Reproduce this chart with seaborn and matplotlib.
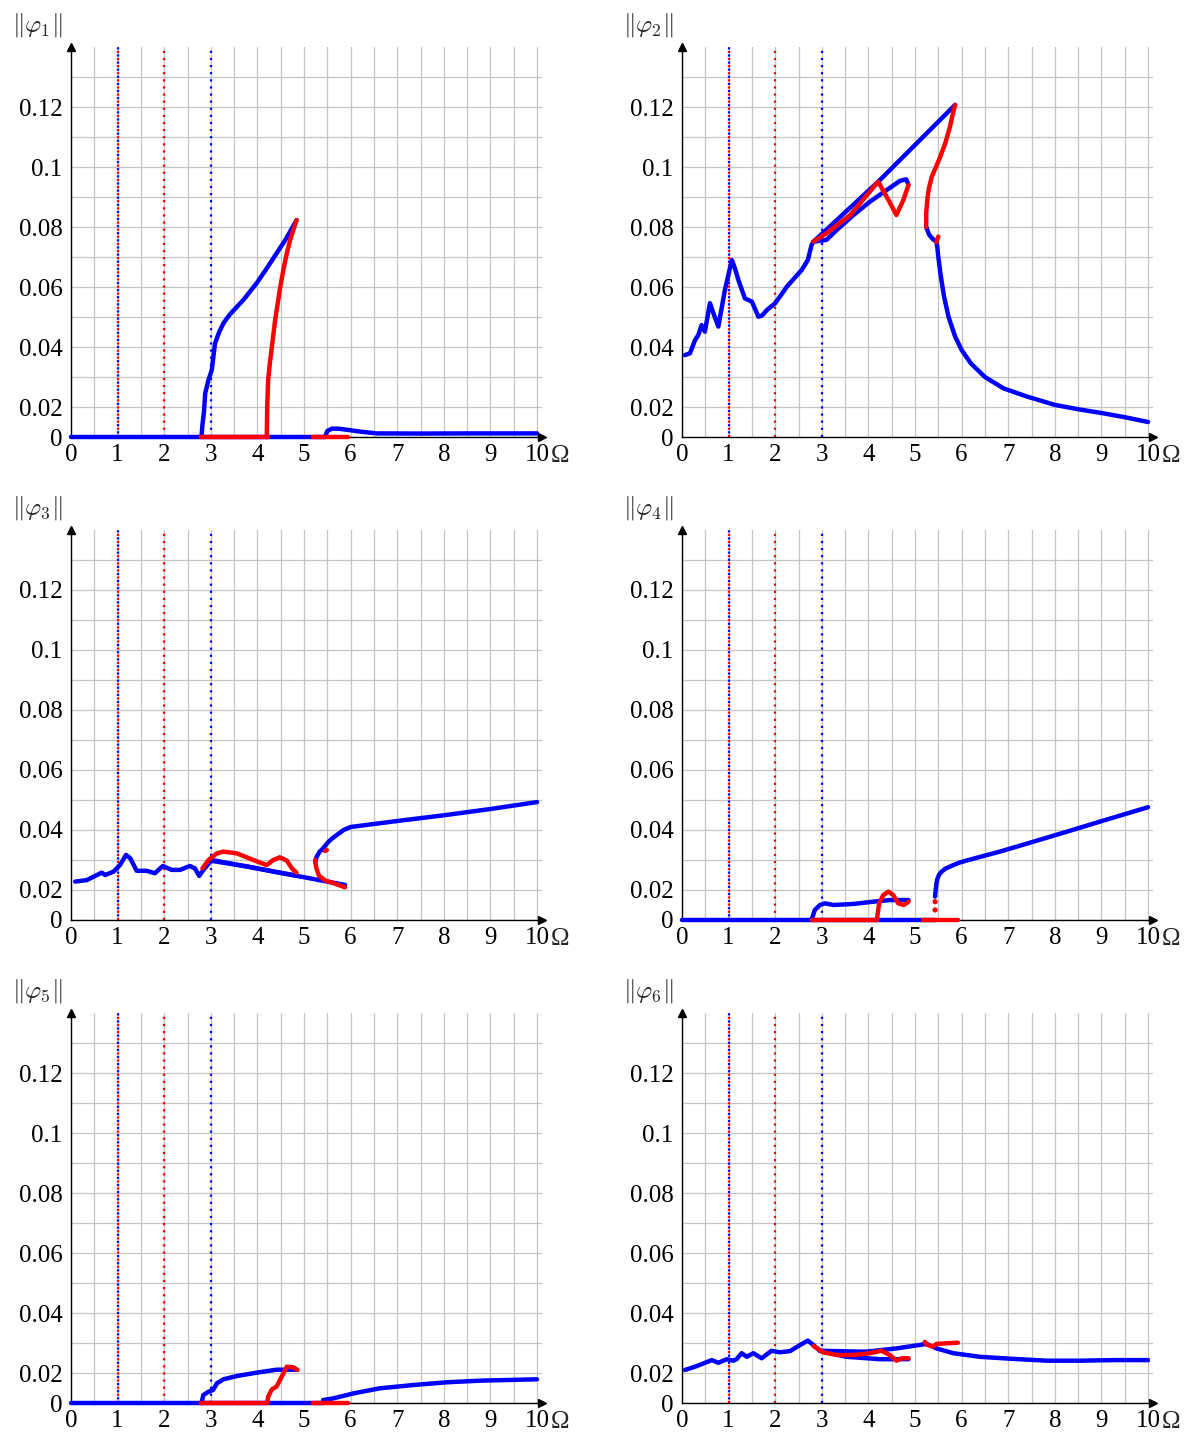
import numpy as np
import matplotlib
matplotlib.use("Agg")
import matplotlib.pyplot as plt
import seaborn as sns

# ---------------- data ----------------
XTICKS = [0, 1, 2, 3, 4, 5, 6, 7, 8, 9, 10]
YTICKS = [0, 0.02, 0.04, 0.06, 0.08, 0.1, 0.12]
YTICKLABELS = ["0", "0.02", "0.04", "0.06", "0.08", "0.1", "0.12"]
VLINES_BLUE = [1, 3]
VLINES_RED = [1, 2]
TITLES = [r"$\Vert\varphi_1\Vert$", r"$\Vert\varphi_2\Vert$", r"$\Vert\varphi_3\Vert$",
          r"$\Vert\varphi_4\Vert$", r"$\Vert\varphi_5\Vert$", r"$\Vert\varphi_6\Vert$"]

# panel 1
p1_blue_zero_x = [0, 5.45]; p1_blue_zero_y = [0, 0]
p1_blue_branch_x = [2.80, 2.82, 2.85, 2.88, 2.95, 3.02, 3.09, 3.18, 3.27, 3.4, 3.56, 3.7, 3.98,
                    4.2, 4.41, 4.6, 4.84]
p1_blue_branch_y = [0, 0.008, 0.0158, 0.0246, 0.029, 0.0323, 0.0412, 0.045, 0.0479, 0.0507,
                    0.0534, 0.0557, 0.0612, 0.0662, 0.0712, 0.0757, 0.0823]
p1_blue_tail_x = [5.45, 5.5, 5.6, 5.75, 6.0, 6.2, 6.56, 7.5, 8.5, 10]
p1_blue_tail_y = [0, 0.004, 0.0056, 0.0055, 0.0045, 0.0036, 0.0024, 0.0023, 0.0024, 0.0024]
p1_red_zero1_x = [2.80, 4.22]; p1_red_zero1_y = [0, 0]
p1_red_zero2_x = [5.2, 5.95]; p1_red_zero2_y = [0, 0]
p1_red_branch_x = [4.20, 4.21, 4.23, 4.27, 4.31, 4.38, 4.49, 4.56, 4.63, 4.70, 4.77, 4.84]
p1_red_branch_y = [0, 0.020, 0.029, 0.035, 0.040, 0.049, 0.060, 0.066, 0.0712, 0.0755, 0.079,
                   0.0823]

# panel 2
p2_blue_main_x = [0.06, 0.17, 0.28, 0.35, 0.42, 0.49, 0.60, 0.68, 0.78, 0.92, 1.07, 1.14, 1.21,
                  1.35, 1.50, 1.64, 1.72, 1.82, 2.00, 2.25, 2.57, 2.70, 2.78, 2.82]
p2_blue_main_y = [0.0373, 0.0379, 0.0423, 0.044, 0.0473, 0.0451, 0.0546, 0.051, 0.0468, 0.059,
                  0.069, 0.066, 0.0623, 0.0562, 0.0551, 0.0501, 0.0505, 0.0523, 0.0546, 0.0601,
                  0.0657, 0.069, 0.074, 0.0751]
p2_blue_lower_x = [2.82, 3.10, 3.32, 3.68, 4.03, 4.39, 4.68, 4.81, 4.86]
p2_blue_lower_y = [0.0751, 0.0757, 0.079, 0.084, 0.0884, 0.0923, 0.0954, 0.0959, 0.094]
p2_blue_upper_x = [2.82, 4.21, 5.86]
p2_blue_upper_y = [0.0751, 0.0951, 0.1207]
p2_blue_tail_x = [5.24, 5.30, 5.38, 5.46, 5.48, 5.50, 5.55, 5.62, 5.72, 5.86, 6.0, 6.2, 6.5, 6.9,
                  7.4, 8.0, 8.5, 9.0, 9.5, 10]
p2_blue_tail_y = [0.080, 0.0775, 0.0760, 0.0751, 0.073, 0.070, 0.064, 0.057, 0.050, 0.0435,
                  0.039, 0.0345, 0.030, 0.0262, 0.0235, 0.0207, 0.0185, 0.0160, 0.0132, 0.0100]
p2_red_loop_x = [4.86, 4.75, 4.60, 4.43, 4.21, 3.61, 3.10, 2.82]
p2_red_loop_y = [0.094, 0.089, 0.084, 0.089, 0.0951, 0.084, 0.0779, 0.0751]
p2_red_desc_x = [5.86, 5.80, 5.75, 5.65, 5.54, 5.45, 5.36, 5.30, 5.27, 5.24, 5.24]
p2_red_desc_y = [0.1207, 0.117, 0.1134, 0.108, 0.1034, 0.100, 0.0968, 0.093, 0.090, 0.0846, 0.080]
p2_red_dot_x = [5.46, 5.50]; p2_red_dot_y = [0.075, 0.0768]

# panel 3
p3_blue_main_x = [0.09, 0.34, 0.48, 0.66, 0.73, 0.91, 1.05, 1.18, 1.27, 1.41, 1.62, 1.80, 1.97,
                  2.16, 2.34, 2.55, 2.66, 2.75, 2.84, 3.02]
p3_blue_main_y = [0.0228, 0.0233, 0.0244, 0.0258, 0.025, 0.0261, 0.0283, 0.0317, 0.0306, 0.0264,
                  0.0264, 0.0256, 0.028, 0.0267, 0.0267, 0.028, 0.0272, 0.0247, 0.0267, 0.030]
p3_blue_lineA_x = [3.02, 5.88]; p3_blue_lineA_y = [0.030, 0.0217]
p3_blue_lineB_x = [3.02, 3.8, 4.4, 4.8]; p3_blue_lineB_y = [0.0297, 0.0278, 0.0260, 0.0249]
p3_blue_upper_x = [5.24, 5.27, 5.33, 5.41, 5.52, 5.62, 5.70, 5.85, 6.0, 6.5, 7, 8, 9, 10]
p3_blue_upper_y = [0.0294, 0.031, 0.0327, 0.0339, 0.0360, 0.0374, 0.0383, 0.0400, 0.0410, 0.0420,
                   0.0430, 0.0449, 0.047, 0.0493]
p3_red_loop_x = [2.82, 2.95, 3.13, 3.27, 3.56, 3.91, 4.20, 4.34, 4.48, 4.63, 4.74, 4.84]
p3_red_loop_y = [0.0272, 0.030, 0.0322, 0.0328, 0.0322, 0.030, 0.0283, 0.030, 0.0309, 0.0298,
                 0.0272, 0.0258]
p3_red_lower_x = [5.24, 5.26, 5.32, 5.45, 5.65, 5.88]
p3_red_lower_y = [0.030, 0.0275, 0.0248, 0.0232, 0.0222, 0.0209]
p3_red_dot_x = [5.45, 5.49]; p3_red_dot_y = [0.033, 0.0333]

# panel 4
p4_blue_zero_x = [0, 5.43]; p4_blue_zero_y = [0, 0]
p4_blue_branch_x = [2.78, 2.85, 2.96, 3.07, 3.25, 3.68, 4.10, 4.46, 4.86]
p4_blue_branch_y = [0, 0.0067, 0.010, 0.0111, 0.010, 0.0107, 0.0122, 0.0133, 0.0133]
p4_blue_upper_x = [5.43, 5.44, 5.46, 5.48, 5.52, 5.57, 5.65, 5.82, 5.95, 6.1, 6.82, 7.54, 8.25,
                   8.97, 10]
p4_blue_upper_y = [0.0156, 0.019, 0.0222, 0.0237, 0.0252, 0.0261, 0.0271, 0.0283, 0.0291, 0.0298,
                   0.0328, 0.0361, 0.0394, 0.0428, 0.0476]
p4_red_zero1_x = [2.78, 4.18]; p4_red_zero1_y = [0, 0]
p4_red_zero2_x = [5.18, 5.93]; p4_red_zero2_y = [0, 0]
p4_red_branch_x = [4.18, 4.23, 4.32, 4.43, 4.53, 4.64, 4.76, 4.86]
p4_red_branch_y = [0, 0.0111, 0.0167, 0.0189, 0.0167, 0.0111, 0.010, 0.0122]
p4_red_dots_x = [5.43, 5.43]; p4_red_dots_y = [0.0067, 0.0122]

# panel 5
p5_blue_zero_x = [0, 5.41]; p5_blue_zero_y = [0, 0]
p5_blue_branch_x = [2.80, 2.84, 2.95, 3.05, 3.13, 3.27, 3.56, 3.98, 4.41, 4.70, 4.84]
p5_blue_branch_y = [0, 0.0053, 0.0075, 0.0087, 0.0131, 0.0158, 0.018, 0.0201, 0.0211, 0.0211, 0.0211]
p5_blue_tail_x = [5.41, 5.63, 6.06, 6.63, 7.35, 8.06, 8.78, 10]
p5_blue_tail_y = [0.002, 0.0031, 0.0064, 0.0098, 0.012, 0.0138, 0.0149, 0.0158]
p5_red_zero1_x = [2.80, 4.21]; p5_red_zero1_y = [0, 0]
p5_red_zero2_x = [5.2, 5.95]; p5_red_zero2_y = [0, 0]
p5_red_branch_x = [4.21, 4.23, 4.31, 4.41, 4.52, 4.63, 4.77, 4.86]
p5_red_branch_y = [0, 0.0042, 0.0091, 0.0109, 0.0175, 0.0221, 0.0219, 0.021]

# panel 6
p6_blue_main_x = [0.06, 0.28, 0.46, 0.64, 0.78, 0.96, 1.10, 1.17, 1.28, 1.39, 1.53, 1.71, 1.92,
                  2.10, 2.32, 2.53, 2.70, 2.82, 2.96]
p6_blue_main_y = [0.021, 0.0221, 0.0232, 0.0243, 0.0234, 0.0246, 0.0241, 0.0246, 0.0266, 0.0254,
                  0.0266, 0.0249, 0.0274, 0.0269, 0.0273, 0.0293, 0.0308, 0.0293, 0.0274]
p6_blue_lower_x = [2.96, 3.53, 4.25, 4.86]; p6_blue_lower_y = [0.0274, 0.0254, 0.0246, 0.0246]
p6_blue_upper_x = [2.96, 3.95, 4.6, 5.25, 5.46, 5.82, 6.39, 7.11, 7.83, 8.54, 9.26, 10]
p6_blue_upper_y = [0.0274, 0.0271, 0.0282, 0.0297, 0.0282, 0.0266, 0.0254, 0.0247, 0.0241, 0.0241,
                   0.0243, 0.0243]
p6_red1_x = [2.82, 3.03, 3.32, 3.67, 4.03, 4.28, 4.46, 4.60, 4.71, 4.86]
p6_red1_y = [0.029, 0.0269, 0.026, 0.026, 0.0266, 0.0274, 0.026, 0.0241, 0.0249, 0.0249]
p6_red2_x = [5.21, 5.25, 5.39, 5.46, 5.67, 5.92]
p6_red2_y = [0.0304, 0.0295, 0.0288, 0.0297, 0.0299, 0.0301]

BLUE = "#0000ff"
RED = "#ff0000"

panels = [
    {"blue": [(p1_blue_zero_x, p1_blue_zero_y), (p1_blue_branch_x, p1_blue_branch_y),
              (p1_blue_tail_x, p1_blue_tail_y)],
     "red": [(p1_red_zero1_x, p1_red_zero1_y), (p1_red_zero2_x, p1_red_zero2_y),
             (p1_red_branch_x, p1_red_branch_y)],
     "reddots": []},
    {"blue": [(p2_blue_main_x, p2_blue_main_y), (p2_blue_lower_x, p2_blue_lower_y),
              (p2_blue_upper_x, p2_blue_upper_y), (p2_blue_tail_x, p2_blue_tail_y)],
     "red": [(p2_red_loop_x, p2_red_loop_y), (p2_red_desc_x, p2_red_desc_y),
             (p2_red_dot_x, p2_red_dot_y)],
     "reddots": []},
    {"blue": [(p3_blue_main_x, p3_blue_main_y), (p3_blue_lineA_x, p3_blue_lineA_y),
              (p3_blue_lineB_x, p3_blue_lineB_y), (p3_blue_upper_x, p3_blue_upper_y)],
     "red": [(p3_red_loop_x, p3_red_loop_y), (p3_red_lower_x, p3_red_lower_y),
             (p3_red_dot_x, p3_red_dot_y)],
     "reddots": []},
    {"blue": [(p4_blue_zero_x, p4_blue_zero_y), (p4_blue_branch_x, p4_blue_branch_y),
              (p4_blue_upper_x, p4_blue_upper_y)],
     "red": [(p4_red_zero1_x, p4_red_zero1_y), (p4_red_zero2_x, p4_red_zero2_y),
             (p4_red_branch_x, p4_red_branch_y)],
     "reddots": [(p4_red_dots_x, p4_red_dots_y)]},
    {"blue": [(p5_blue_zero_x, p5_blue_zero_y), (p5_blue_branch_x, p5_blue_branch_y),
              (p5_blue_tail_x, p5_blue_tail_y)],
     "red": [(p5_red_zero1_x, p5_red_zero1_y), (p5_red_zero2_x, p5_red_zero2_y),
             (p5_red_branch_x, p5_red_branch_y)],
     "reddots": []},
    {"blue": [(p6_blue_main_x, p6_blue_main_y), (p6_blue_lower_x, p6_blue_lower_y),
              (p6_blue_upper_x, p6_blue_upper_y)],
     "red": [(p6_red1_x, p6_red1_y), (p6_red2_x, p6_red2_y)],
     "reddots": []},
]

# ---------------- styling ----------------
sns.set_theme(style="white")
plt.rcParams["font.family"] = ["Liberation Serif", "DejaVu Serif"]
plt.rcParams["mathtext.fontset"] = "cm"


def fwd(y):
    y = np.asarray(y, dtype=float)
    return np.where(y < 0.02, 0.01 + y / 2.0, y)


def inv(v):
    v = np.asarray(v, dtype=float)
    return np.where(v < 0.02, (v - 0.01) * 2.0, v)


fig = plt.figure(figsize=(11.89, 14.34), dpi=100)
W, H = 1189.0, 1434.0
lefts = [71, 682]
bottoms = [437, 920, 1403]
ax_w = 470.7
ax_h = 390

for i, pdata in enumerate(panels):
    r, c = divmod(i, 2)
    ax = fig.add_axes([lefts[c] / W, (H - bottoms[r]) / H, ax_w / W, ax_h / H])
    ax.set_yscale("function", functions=(fwd, inv))
    ax.set_xlim(0, 10.1)
    ax.set_ylim(0, 0.14)

    ax.set_xticks(XTICKS)
    ax.set_xticks(np.arange(0.5, 10.0, 1.0), minor=True)
    ax.set_xticklabels([str(t) for t in XTICKS])
    ax.set_yticks(YTICKS)
    ax.set_yticks([0.03, 0.05, 0.07, 0.09, 0.11, 0.13], minor=True)
    ax.set_yticklabels(YTICKLABELS)
    ax.tick_params(axis="both", which="both", labelsize=18, colors="#333333",
                   labelcolor="black", direction="in")
    ax.tick_params(axis="x", which="both", length=7, width=1, pad=5)
    ax.tick_params(axis="y", which="both", length=10, width=1, pad=6)
    ax.grid(True, which="both", color="#c4c4c4", linewidth=0.9)
    ax.set_axisbelow(True)
    for s in ["top", "right"]:
        ax.spines[s].set_visible(False)
    for s in ["left", "bottom"]:
        ax.spines[s].set_color("black")
        ax.spines[s].set_linewidth(1.0)
        ax.spines[s].set_zorder(2.5)

    # dotted reference lines
    for xv in VLINES_RED:
        ax.axvline(xv, color=RED, ls=(0, (1, 2.2)), lw=1.6, zorder=2)
    for xv in VLINES_BLUE:
        ax.axvline(xv, color=BLUE, ls=(1.6, (1, 2.2)) if xv in VLINES_RED else (0, (1, 2.2)),
                   lw=1.6, zorder=2)

    n_before = len(ax.lines)
    for xs, ys in pdata["blue"]:
        sns.lineplot(x=xs, y=ys, ax=ax, color=BLUE, lw=3.2, sort=False, estimator=None)
    for xs, ys in pdata["red"]:
        sns.lineplot(x=xs, y=ys, ax=ax, color=RED, lw=3.2, sort=False, estimator=None)
    for ln in ax.lines[n_before:]:
        ln.set_clip_on(False)
        ln.set_solid_capstyle("round")
        ln.set_solid_joinstyle("round")
        ln.set_zorder(3)
    for xs, ys in pdata["reddots"]:
        sns.scatterplot(x=xs, y=ys, ax=ax, color=RED, s=14, edgecolor="none", zorder=4,
                        clip_on=False)

    ax.set_xlabel("")
    ax.set_ylabel("")
    if ax.get_legend():
        ax.get_legend().remove()

    # axis arrows
    ax.plot([0], [1], marker="^", color="black", markersize=6, transform=ax.transAxes,
            clip_on=False, zorder=5)
    ax.plot([1], [0], marker=">", color="black", markersize=6, transform=ax.transAxes,
            clip_on=False, zorder=5)

    ax.text(-0.126, 1.057, TITLES[i], transform=ax.transAxes, ha="left", va="center",
            fontsize=18)
    ax.annotate("Ω", xy=(1, 0), xycoords="axes fraction", xytext=(6.5, -5.5),
                textcoords="offset points", ha="left", va="top", fontsize=18)

fig.savefig("out.png", dpi=100)
